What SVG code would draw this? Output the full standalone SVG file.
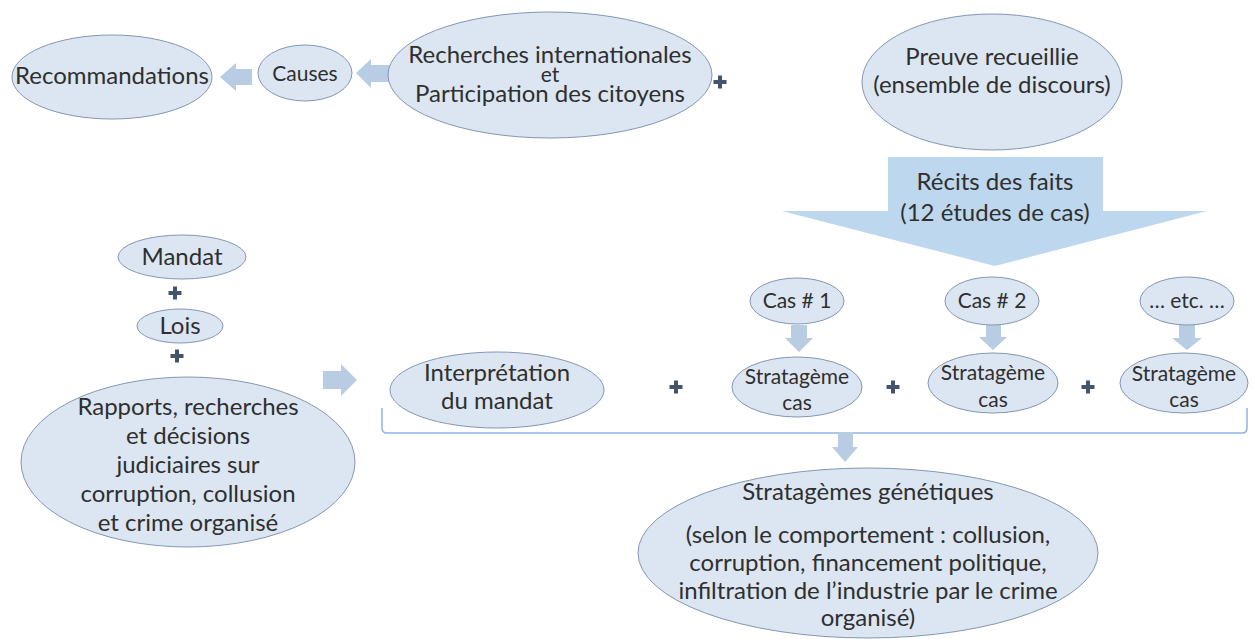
<svg xmlns="http://www.w3.org/2000/svg" width="1254" height="639" viewBox="0 0 1254 639">
<defs>
<style>
.n{fill:#dce6f2;stroke:#8497b0;stroke-width:1}
.t{font-family:Lato,"Liberation Sans",sans-serif;font-size:24px;fill:#2f2f2f;text-anchor:middle}
.s{font-size:21px}
.e{font-size:21px}
.a{fill:#b8cce4}
.big{fill:#bdd7ee}
.p{fill:#44546a}
.br{fill:none;stroke:#8eb4e3;stroke-width:1.5}
</style>
<path id="plus" d="M-2,-6.5 H2 V-2 H6.5 V2 H2 V6.5 H-2 V2 H-6.5 V-2 H-2 Z"/>
</defs>
<rect width="1254" height="639" fill="#ffffff"/>

<g id="connectors">
<path class="a" d="M220,77 L236,63 L236,69 L252,69 L252,85 L236,85 L236,91 Z"/>
<path class="a" d="M356,73 L371,59 L371,65 L390,65 L390,82 L371,82 L371,88 Z"/>
<path class="a" d="M357,380 L341,364 L341,371 L323,371 L323,389 L341,389 L341,396 Z"/>
<path class="a" d="M799,352 L785,338 L791,338 L791,325 L807,325 L807,338 L813,338 Z"/>
<path class="a" d="M993,350 L979,337 L986,337 L986,325 L1001,325 L1001,337 L1007,337 Z"/>
<path class="a" d="M1187,350 L1172,338 L1179,338 L1179,325 L1195,325 L1195,338 L1202,338 Z"/>
<path class="br" d="M382,408 V428 Q382,433 387,433 H1242 Q1247,433 1247,428 V408"/>
<path class="a" d="M845,462 L832,447 L838,447 L838,432 L853,432 L853,447 L858,447 Z"/>
<use href="#plus" class="p" x="720" y="82"/>
<use href="#plus" class="p" x="175" y="293"/>
<use href="#plus" class="p" x="177" y="356"/>
<use href="#plus" class="p" x="676" y="387"/>
<use href="#plus" class="p" x="893" y="387"/>
<use href="#plus" class="p" x="1088" y="387"/>
</g>

<g id="recommandations">
<ellipse class="n" cx="112" cy="77" rx="100" ry="42"/>
<text class="t" x="112" y="84">Recommandations</text>
</g>
<g id="causes">
<ellipse class="n" cx="305" cy="73" rx="47" ry="28"/>
<text class="t s" x="305" y="81">Causes</text>
</g>
<g id="recherches">
<ellipse class="n" cx="550" cy="75" rx="162" ry="63"/>
<text class="t" x="550" y="63">Recherches internationales</text>
<text class="t e" x="550" y="82">et</text>
<text class="t" x="550" y="102">Participation des citoyens</text>
</g>
<g id="preuve">
<ellipse class="n" cx="992" cy="82" rx="130" ry="68"/>
<text class="t" x="992" y="65">Preuve recueillie</text>
<text class="t" x="992" y="93">(ensemble de discours)</text>
</g>
<g id="recits">
<path class="big" d="M888,157 H1103 V211 H1207 L995,266 L782,211 H888 Z"/>
<text class="t" x="995" y="190">Récits des faits</text>
<text class="t" x="995" y="221">(12 études de cas)</text>
</g>
<g id="mandat">
<ellipse class="n" cx="182" cy="257" rx="64" ry="22"/>
<text class="t" x="182" y="265">Mandat</text>
</g>
<g id="lois">
<ellipse class="n" cx="180" cy="326" rx="43" ry="17"/>
<text class="t" x="180" y="334">Lois</text>
</g>
<g id="rapports">
<ellipse class="n" cx="188" cy="462" rx="167" ry="85"/>
<text class="t" x="188" y="415">Rapports, recherches</text>
<text class="t" x="188" y="444">et décisions</text>
<text class="t" x="188" y="473">judiciaires sur</text>
<text class="t" x="188" y="502">corruption, collusion</text>
<text class="t" x="188" y="531">et crime organisé</text>
</g>
<g id="interpretation">
<ellipse class="n" cx="497" cy="390" rx="107" ry="38"/>
<text class="t" x="497" y="381">Interprétation</text>
<text class="t" x="497" y="409">du mandat</text>
</g>
<g id="cas1">
<ellipse class="n" cx="797" cy="301" rx="47" ry="23"/>
<text class="t s" x="797" y="308">Cas # 1</text>
</g>
<g id="strat1">
<ellipse class="n" cx="797" cy="387" rx="65" ry="30"/>
<text class="t s" x="797" y="384">Stratagème</text>
<text class="t s" x="797" y="410">cas</text>
</g>
<g id="cas2">
<ellipse class="n" cx="992" cy="301" rx="47" ry="24"/>
<text class="t s" x="992" y="308">Cas # 2</text>
</g>
<g id="strat2">
<ellipse class="n" cx="993" cy="383" rx="65" ry="30"/>
<text class="t s" x="993" y="380">Stratagème</text>
<text class="t s" x="993" y="407">cas</text>
</g>
<g id="etc">
<ellipse class="n" cx="1187" cy="301" rx="47" ry="24"/>
<text class="t s" x="1187" y="308">… etc. …</text>
</g>
<g id="strat3">
<ellipse class="n" cx="1184" cy="383" rx="64" ry="30"/>
<text class="t s" x="1184" y="381">Stratagème</text>
<text class="t s" x="1184" y="407">cas</text>
</g>
<g id="genetiques">
<ellipse class="n" cx="868" cy="553" rx="230" ry="85"/>
<text class="t" x="868" y="500">Stratagèmes génétiques</text>
<text class="t" x="868" y="543">(selon le comportement : collusion,</text>
<text class="t" x="868" y="571">corruption, financement politique,</text>
<text class="t" x="868" y="599">infiltration de l’industrie par le crime</text>
<text class="t" x="868" y="626">organisé)</text>
</g>
</svg>
